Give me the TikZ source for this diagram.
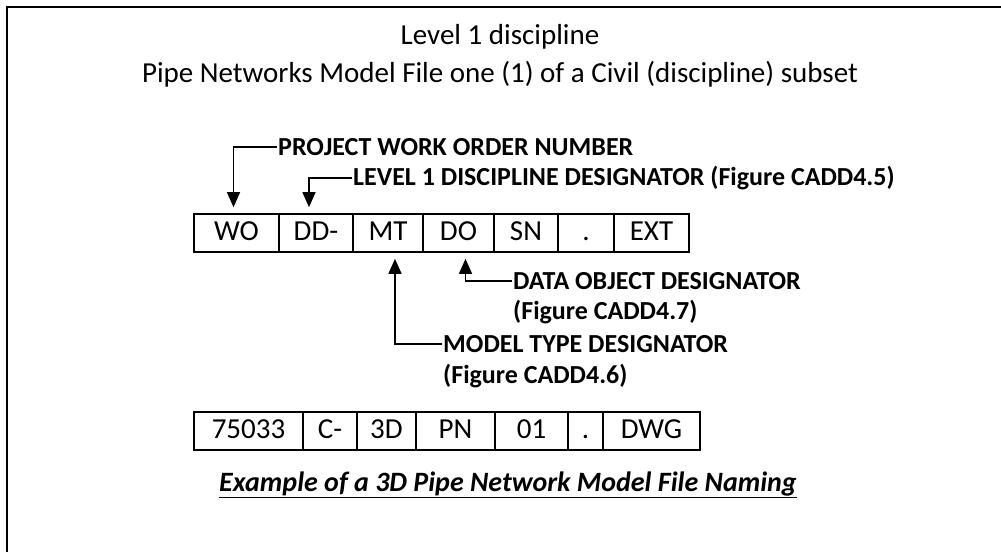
\documentclass[tikz,border=0pt]{standalone}
\usepackage{fontspec}
\setmainfont{Carlito}
\usetikzlibrary{matrix, positioning, calc, arrows.meta}
\newcommand\headsize{\fontsize{29}{34}\selectfont}
\newcommand\cellsize{\fontsize{29}{34}\selectfont}
\newcommand\tagsize{\fontsize{26}{31}\selectfont}

\tikzset{
	cell/.style={draw, line width=1.6pt, minimum height=38, inner sep=0pt, text height=20pt, text depth=6pt, font=\cellsize},
	tag/.style={anchor=west, inner sep=1pt, font=\tagsize\bfseries},
	pointer/.style={-{Triangle[width=13pt, length=15pt]}, line width=1.4pt, shorten >=6pt},
}

\begin{document}
\begin{tikzpicture}[x=1pt, y=-1pt]
			\useasboundingbox (0,0) rectangle (1001,552);
			\draw[line width=2.2pt] (1001,7) -- (7,7) -- (7,552);
			\path node[font=\headsize] (title) at (500,37) {Level 1 discipline};
			\path node[font=\headsize] (subtitle) at (500,74) {Pipe Networks Model File one (1) of a Civil (discipline) subset};
			% naming pattern
			\path node[matrix of nodes, ampersand replacement=\&, anchor=north west, inner sep=0pt, column sep=-1.6pt, nodes={cell},
				column 1/.style={nodes={minimum width=85}}, column 2/.style={nodes={minimum width=74}},
				column 3/.style={nodes={minimum width=70}}, column 4/.style={nodes={minimum width=71}},
				column 5/.style={nodes={minimum width=64}}, column 6/.style={nodes={minimum width=56}},
				column 7/.style={nodes={minimum width=75}}] (pattern) at (193,213) {
					| (wo) | WO \& | (dd) | DD- \& | (mt) | MT \& | (do) | DO \& | (sn) | SN \& . \& EXT\\
			};
			\path node[tag] (pwo) at (277,147) {PROJECT WORK ORDER NUMBER};
			\draw[pointer] (pwo.west) -| ([xshift=-3pt]wo.north);
			\path node[tag] (ldd) at (352,178) {LEVEL 1 DISCIPLINE DESIGNATOR (Figure CADD4.5)};
			\draw[pointer] (ldd.west) -| ([xshift=-7pt]dd.north);
			\path node[tag] (dod) at (512,281) {DATA OBJECT DESIGNATOR};
			\path node[tag] (dod fig) at (512,312) {(Figure CADD4.7)};
			\draw[pointer] (dod.west) -| ([xshift=7pt]do.south);
			\path node[tag] (mtd) at (442,344) {MODEL TYPE DESIGNATOR};
			\path node[tag] (mtd fig) at (442,376) {(Figure CADD4.6)};
			\draw[pointer] (mtd.west) -| ([xshift=7pt]mt.south);
			% example file name
			\path node[matrix of nodes, ampersand replacement=\&, anchor=north west, inner sep=0pt, column sep=-1.6pt, nodes={cell},
				column 1/.style={nodes={minimum width=109}}, column 2/.style={nodes={minimum width=54}},
				column 3/.style={nodes={minimum width=59}}, column 4/.style={nodes={minimum width=79}},
				column 5/.style={nodes={minimum width=73}}, column 6/.style={nodes={minimum width=35}},
				column 7/.style={nodes={minimum width=97}}] (example) at (193,411) {
					75033 \& C- \& 3D \& PN \& 01 \& . \& DWG\\
			};
			\path node[font=\fontsize{28}{33}\selectfont\bfseries\itshape] (caption) at (508,485) {\underline{Example of a 3D Pipe Network Model File Naming}};
		\end{tikzpicture}
\end{document}
